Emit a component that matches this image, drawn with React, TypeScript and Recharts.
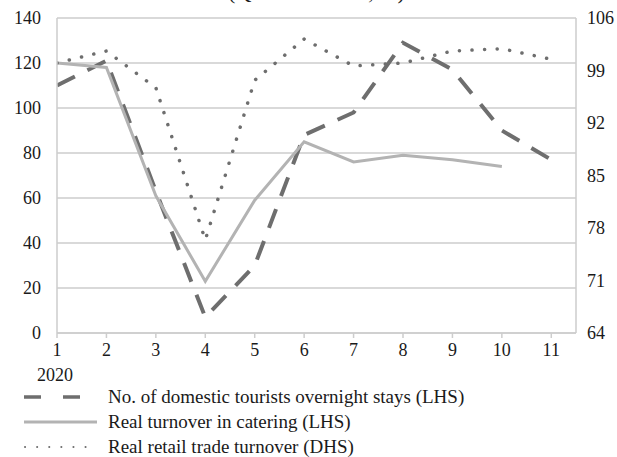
import React from 'react'
import { LineChart, Line, XAxis, YAxis, CartesianGrid } from 'recharts'

// months of 2020
const months = [1, 2, 3, 4, 5, 6, 7, 8, 9, 10, 11]
// LHS
const tourists = [110, 121, 63, 7, 30, 88, 98, 129, 117, 90, 77]
const catering = [120, 118, 61, 23, 59, 85, 76, 79, 77, 74, null]
// RHS
const retail = [100, 101.6, 96.7, 76.4, 97.7, 103.2, 99.6, 100, 101.6, 101.9, 100.5]

const leftTicks = [0, 20, 40, 60, 80, 100, 120, 140]
const rightTicks = [64, 71, 78, 85, 92, 99, 106]

const seriesNames = [
  'No. of domestic tourists overnight stays (LHS)',
  'Real turnover in catering (LHS)',
  'Real retail trade turnover (DHS)',
]

const data = months.map((m, i) => ({
  m,
  tourists: tourists[i],
  catering: catering[i],
  retail: retail[i],
}))

const FONT = '"Liberation Serif", "Times New Roman", serif'
const DARK = '#6e6e6e'
const LIGHT = '#b3b3b3'
const GRID = '#cdcdcd'

const MonthTick = (props: any) => {
  const { x, y, payload } = props
  return (
    <g>
      <text x={x} y={y} dy={13} textAnchor="middle" fill="#1a1a1a" fontSize={18} fontFamily={FONT}>
        {payload.value}
      </text>
      {payload.value === 1 && (
        <text x={x - 2} y={y} dy={38} textAnchor="middle" fill="#1a1a1a" fontSize={18} fontFamily={FONT}>
          2020
        </text>
      )}
    </g>
  )
}

const tickStyle = { fill: '#1a1a1a', fontSize: 18, fontFamily: FONT }

function LegendIcon({ kind }: { kind: number }) {
  if (kind === 0)
    return (
      <svg width={80} height={10}>
        <line x1={4} y1={5} x2={80} y2={5} stroke={DARK} strokeWidth={3.5} strokeDasharray="17 22" />
      </svg>
    )
  if (kind === 1)
    return (
      <svg width={80} height={10}>
        <line x1={4} y1={5} x2={77} y2={5} stroke={LIGHT} strokeWidth={3} />
      </svg>
    )
  return (
    <svg width={80} height={10}>
      <line x1={5} y1={5} x2={76} y2={5} stroke={DARK} strokeWidth={2} strokeDasharray="0.1 12" strokeLinecap="round" />
    </svg>
  )
}

export default function App() {
  return (
    <div style={{ position: 'absolute', left: 0, top: 0, width: 617, height: 457, overflow: 'hidden', background: '#fff' }}>
      <div
        style={{
          position: 'absolute',
          top: -18,
          left: 0,
          width: 617,
          textAlign: 'center',
          fontFamily: FONT,
          fontSize: 22,
          lineHeight: '20px',
          color: '#1a1a1a',
          paddingLeft: 8,
        }}
      >
        (Q4 2019 = 100, sa)
      </div>
      <LineChart width={617} height={457} data={data} margin={{ top: 18, right: 0, bottom: 0, left: 0 }}>
        <CartesianGrid yAxisId="left" vertical={false} stroke={GRID} strokeWidth={1.5} />
        <XAxis
          dataKey="m"
          type="number"
          domain={[1, 11.5]}
          ticks={months}
          allowDataOverflow
          height={124}
          stroke={GRID}
          strokeWidth={1.5}
          tickSize={5}
          tickMargin={5}
          tick={<MonthTick />}
        />
        <YAxis
          yAxisId="left"
          domain={[0, 140]}
          ticks={leftTicks}
          width={57}
          stroke={GRID}
          strokeWidth={1.5}
          tickLine={false}
          tickSize={0}
          tickMargin={16}
          tick={tickStyle}
        />
        <YAxis
          yAxisId="right"
          orientation="right"
          domain={[64, 106]}
          ticks={rightTicks}
          width={41}
          stroke={GRID}
          strokeWidth={1.5}
          tickLine={false}
          tickSize={0}
          tickMargin={11}
          tick={{ ...tickStyle, textAnchor: 'start' }}
        />
        <Line
          yAxisId="left"
          dataKey="tourists"
          name={seriesNames[0]}
          type="linear"
          stroke={DARK}
          strokeWidth={4}
          strokeDasharray="20 14"
          dot={false}
          isAnimationActive={false}
        />
        <Line
          yAxisId="left"
          dataKey="catering"
          name={seriesNames[1]}
          type="linear"
          stroke={LIGHT}
          strokeWidth={3}
          dot={false}
          isAnimationActive={false}
        />
        <Line
          yAxisId="right"
          dataKey="retail"
          name={seriesNames[2]}
          type="linear"
          stroke={DARK}
          strokeWidth={3.5}
          strokeDasharray="0.1 12.5"
          strokeLinecap="round"
          dot={false}
          isAnimationActive={false}
        />
      </LineChart>
      <div style={{ position: 'absolute', left: 20, top: 384, fontFamily: FONT, fontSize: 19, color: '#1a1a1a' }}>
        {seriesNames.map((name, i) => (
          <div key={name} style={{ display: 'flex', alignItems: 'center', height: 25 }}>
            <LegendIcon kind={i} />
            <span style={{ marginLeft: 8 }}>{name}</span>
          </div>
        ))}
      </div>
    </div>
  )
}
